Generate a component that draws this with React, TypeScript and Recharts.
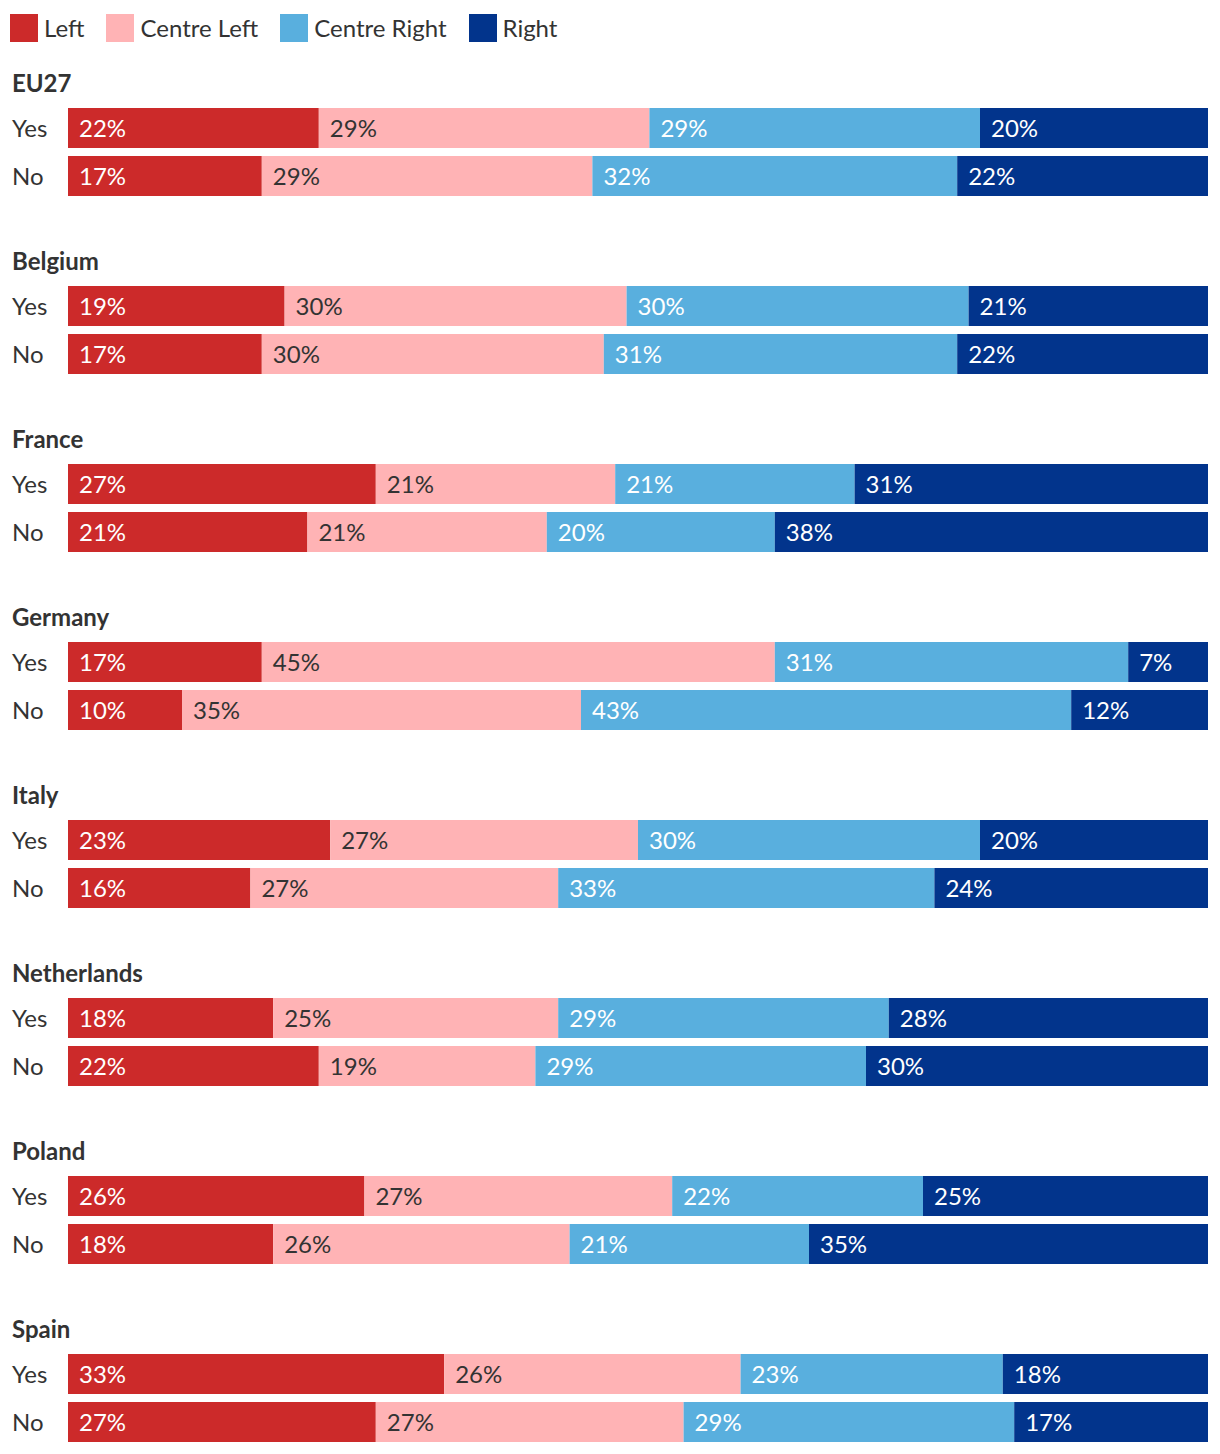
import { Bar, BarChart, LabelList, XAxis, YAxis } from "recharts";

const countries = [
  "EU27",
  "Belgium",
  "France",
  "Germany",
  "Italy",
  "Netherlands",
  "Poland",
  "Spain",
];
const answers = ["Yes", "No"];

// [yes, no] per country, in the same order as countries
const leftShare = [
  [22, 17], [19, 17], [27, 21], [17, 10], [23, 16], [18, 22], [26, 18], [33, 27],
];
const centreLeftShare = [
  [29, 29], [30, 30], [21, 21], [45, 35], [27, 27], [25, 19], [27, 26], [26, 27],
];
const centreRightShare = [
  [29, 32], [30, 31], [21, 20], [31, 43], [30, 33], [29, 29], [22, 21], [23, 29],
];
const rightShare = [
  [20, 22], [21, 22], [31, 38], [7, 12], [20, 24], [28, 30], [25, 35], [18, 17],
];

const series = [
  { key: "left", name: "Left", color: "#cc2a2a", text: "#ffffff" },
  { key: "centreLeft", name: "Centre Left", color: "#ffb3b5", text: "#333333" },
  { key: "centreRight", name: "Centre Right", color: "#59afde", text: "#ffffff" },
  { key: "right", name: "Right", color: "#02348c", text: "#ffffff" },
];

const FONT = "Lato, 'Noto Sans', sans-serif";
const FS = 24;
const GROUP_STEP = 178;

const AnswerTick = (props: any) => {
  const { y, payload } = props;
  return (
    <text x={12} y={y} dy="0.36em" fill="#333333" fontSize={FS} fontFamily={FONT}>
      {payload.value}
    </text>
  );
};

const GroupChart = ({ index }: { index: number }) => {
  const data = answers.map((answer, i) => ({
    answer,
    left: leftShare[index][i],
    centreLeft: centreLeftShare[index][i],
    centreRight: centreRightShare[index][i],
    right: rightShare[index][i],
  }));

  return (
    <BarChart
      width={1220}
      height={96}
      data={data}
      layout="vertical"
      margin={{ top: 0, right: 12, bottom: 0, left: 12 }}
    >
      <XAxis type="number" domain={[0, 100]} hide />
      <YAxis
        type="category"
        dataKey="answer"
        width={56}
        axisLine={false}
        tickLine={false}
        tick={<AnswerTick />}
      />
      {series.map((s) => (
        <Bar
          key={s.key}
          dataKey={s.key}
          stackId="a"
          fill={s.color}
          barSize={40}
          isAnimationActive={false}
        >
          <LabelList
            dataKey={s.key}
            position="insideLeft"
            offset={11}
            formatter={(v: any) => `${v}%`}
            fill={s.text}
            fontSize={FS}
            fontFamily={FONT}
          />
        </Bar>
      ))}
    </BarChart>
  );
};

export default function App() {
  return (
    <div
      style={{
        position: "absolute",
        left: 0,
        top: 0,
        width: 1220,
        height: 1454,
        background: "#ffffff",
        fontFamily: FONT,
        color: "#333333",
      }}
    >
      <div style={{ position: "absolute", left: 10, top: 14, display: "flex", height: 28 }}>
        {series.map((s) => (
          <div key={s.key} style={{ display: "flex", alignItems: "center", marginRight: 22 }}>
            <div style={{ width: 28, height: 28, background: s.color, marginRight: 6 }} />
            <span style={{ fontSize: FS, lineHeight: "28px" }}>{s.name}</span>
          </div>
        ))}
      </div>
      {countries.map((c, i) => (
        <div key={c}>
          <div
            style={{
              position: "absolute",
              left: 12,
              top: 71 + GROUP_STEP * i,
              fontSize: FS,
              lineHeight: "24px",
              fontWeight: 700,
            }}
          >
            {c}
          </div>
          <div style={{ position: "absolute", left: 0, top: 104 + GROUP_STEP * i }}>
            <GroupChart index={i} />
          </div>
        </div>
      ))}
    </div>
  );
}
